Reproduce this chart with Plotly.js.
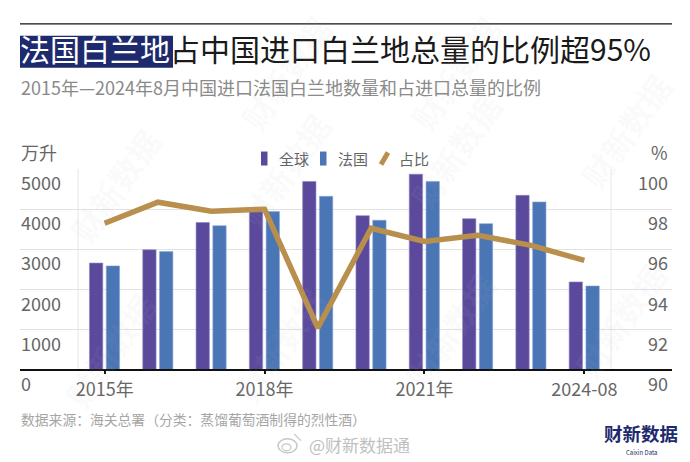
<!DOCTYPE html>
<html>
<head>
<meta charset="utf-8">
<script src="https://cdn.plot.ly/plotly-3.0.1.min.js"></script>
<style>html,body{margin:0;padding:0;background:#fff}</style>
</head>
<body>
<div id="chart" style="width:690px;height:462px"></div>
<script>
const years = [0,1,2,3,4,5,6,7,8,9];
const yearNames = ["2015","2016","2017","2018","2019","2020","2021","2022","2023","2024-08"];
const globalValues = [2660,2990,3670,3980,4690,3840,4870,3765,4345,2190];
const franceValues = [2590,2945,3590,3940,4320,3725,4690,3640,4180,2090];
const shareValues = [97.3,98.35,97.9,98.0,92.1,97.05,96.4,96.7,96.2,95.45];
const xTickVals = [0,3,6,9];
const xTickText = ["2015年","2018年","2021年","2024-08"];
const leftTicks = [0,1000,2000,3000,4000,5000];
const rightTicks = [90,92,94,96,98,100];

const FONT = '"Noto Sans CJK SC","Noto Sans",sans-serif';
const W = 690, H = 462, L = 20, R = 672, T = 168.5, B = 370;
const px = x => (x - L) / (R - L);
const py = y => (B - y) / (B - T);
const gray = '#666666';
const txt = (text, x, y, size, color, extra) => Object.assign({
  text, x: px(x), y: py(y), xref: 'paper', yref: 'paper', showarrow: false, borderpad: 0,
  xanchor: 'left', yanchor: 'middle', font: {family: FONT, size, color}
}, extra || {});

const marks = [
  [115,185],[285,170],[455,150],[625,130],[110,350],[280,345],[450,330],[620,320],[285,72],[455,72]
].map(p => txt('财新数据', p[0], p[1], 32, 'rgba(190,190,195,0.07)', {textangle: -55, xanchor: 'center', font: {family: FONT, size: 32, color: 'rgba(190,190,195,0.07)', weight: 700}}));

const leftLabels = leftTicks.map(v => ({
  text: String(v), x: px(20), xref: 'paper', y: v, yref: 'y', yshift: 1, showarrow: false, borderpad: 0,
  xanchor: 'left', yanchor: 'top', font: {family: FONT, size: 18, color: gray}
}));
const rightLabels = rightTicks.map(v => ({
  text: String(v), x: px(669), xref: 'paper', y: v, yref: 'y2', yshift: 1, showarrow: false, borderpad: 0,
  xanchor: 'right', yanchor: 'top', font: {family: FONT, size: 18, color: gray}
}));

const rect = (x0, x1, y0, y1, color) => ({type: 'rect', xref: 'paper', yref: 'paper',
  x0: px(x0), x1: px(x1), y0: py(y0), y1: py(y1), fillcolor: color, line: {width: 0}, layer: 'below'});

const layout = {
  width: W, height: H, paper_bgcolor: '#fff', plot_bgcolor: 'rgba(0,0,0,0)',
  margin: {l: L, r: W - R, t: T, b: H - B, pad: 0, autoexpand: false},
  showlegend: false,
  font: {family: FONT, color: gray},
  title: {
    text: '<span style="color:#ffffff">法国白兰地</span>占中国进口白兰地总量的比例超95%',
    x: 20 / W, xanchor: 'left', xref: 'container', y: 1 - 50 / H, yanchor: 'middle', yref: 'container',
    font: {family: FONT, size: 30, color: '#1a1a1a'}
  },
  xaxis: {
    range: [-0.5 - 58 / 53.3, 9.5 + 61 / 53.3], tickmode: 'array', tickvals: xTickVals, ticktext: xTickText,
    ticks: 'outside', ticklen: 3, tickwidth: 2, tickcolor: '#111', showgrid: false, zeroline: false,
    showline: false, tickfont: {family: FONT, size: 18, color: gray}, ticklabelstandoff: 0
  },
  yaxis: {
    range: [0, 5000], tickmode: 'array', tickvals: leftTicks, showticklabels: false, ticks: '',
    gridcolor: '#e2e2e2', gridwidth: 1, zeroline: false, showline: false
  },
  yaxis2: {
    range: [90, 100], overlaying: 'y', side: 'right', tickmode: 'array', tickvals: rightTicks,
    showticklabels: false, ticks: '', showgrid: false, zeroline: false, showline: false
  },
  shapes: [
    {type: 'line', xref: 'paper', yref: 'paper', x0: 0, x1: 1, y0: py(23), y1: py(23), line: {color: '#111', width: 1.2}},
    rect(20, 173, 35, 67, '#1d2a6d'),
    {type: 'line', xref: 'x', yref: 'paper', x0: -0.5, x1: -0.5, y0: 0, y1: 1, line: {color: '#e6e6e6', width: 1}, layer: 'below'},
    {type: 'line', xref: 'x', yref: 'paper', x0: 9.5, x1: 9.5, y0: 0, y1: 1, line: {color: '#e6e6e6', width: 1}, layer: 'below'},
    {type: 'line', xref: 'paper', yref: 'paper', x0: 0, x1: 1, y0: 0, y1: 0, line: {color: '#111', width: 2}},
    rect(261, 267.5, 151, 165, '#5b4a9c'),
    rect(320, 326.5, 151, 165, '#4a76b5'),
    {type: 'line', xref: 'paper', yref: 'paper', x0: px(381), x1: px(388), y0: py(164), y1: py(152), line: {color: '#b98f4e', width: 5}},
    {type: 'circle', xref: 'paper', yref: 'paper', x0: px(278), x1: px(297), y0: py(453), y1: py(439), line: {color: '#c8c8c8', width: 1.5}},
    {type: 'circle', xref: 'paper', yref: 'paper', x0: px(282), x1: px(291), y0: py(451), y1: py(444), line: {color: '#c8c8c8', width: 1.2}},
    {type: 'line', xref: 'paper', yref: 'paper', x0: px(294), x1: px(301), y0: py(434), y1: py(441), line: {color: '#d0d0d0', width: 1.5}}
  ],
  annotations: marks.concat(leftLabels, rightLabels, [
    txt('2015年—2024年8月中国进口法国白兰地数量和占进口总量的比例', 20, 86, 18, '#8a8a8a'),
    txt('万升', 20, 151, 18, gray),
    txt('%', 669, 151, 18, gray, {xanchor: 'right'}),
    txt('全球', 278, 158, 15, gray),
    txt('法国', 337, 158, 15, gray),
    txt('占比', 398, 158, 15, gray),
    txt('数据来源：海关总署（分类：蒸馏葡萄酒制得的烈性酒）', 20, 419, 13.8, '#a6a6a6'),
    txt('@财新数据通', 308, 445, 17, '#c0c0c0'),
    txt('财新数据', 641, 433, 18.5, '#1d2a6d', {xanchor: 'center', font: {family: FONT, size: 18.5, color: '#1d2a6d', weight: 700}}),
    txt('Caixin Data', 641, 453, 6, '#1d2a6d', {xanchor: 'center'})
  ])
};

const traces = [
  {type: 'bar', name: '全球', x: years, y: globalValues, width: 0.25, offset: -0.285,
   marker: {color: '#5b4a9c', line: {color: '#8e86c4', width: 0.6}}, hoverinfo: 'skip'},
  {type: 'bar', name: '法国', x: years, y: franceValues, width: 0.25, offset: 0.03,
   marker: {color: '#4a76b5', line: {color: '#86a4d4', width: 0.6}}, hoverinfo: 'skip'},
  {type: 'scatter', mode: 'lines', name: '占比', x: years, y: shareValues, yaxis: 'y2',
   line: {color: '#b98f4e', width: 5.5}, hoverinfo: 'skip'}
];
Plotly.newPlot('chart', traces, layout, {displayModeBar: false, staticPlot: true});
</script>
</body>
</html>
